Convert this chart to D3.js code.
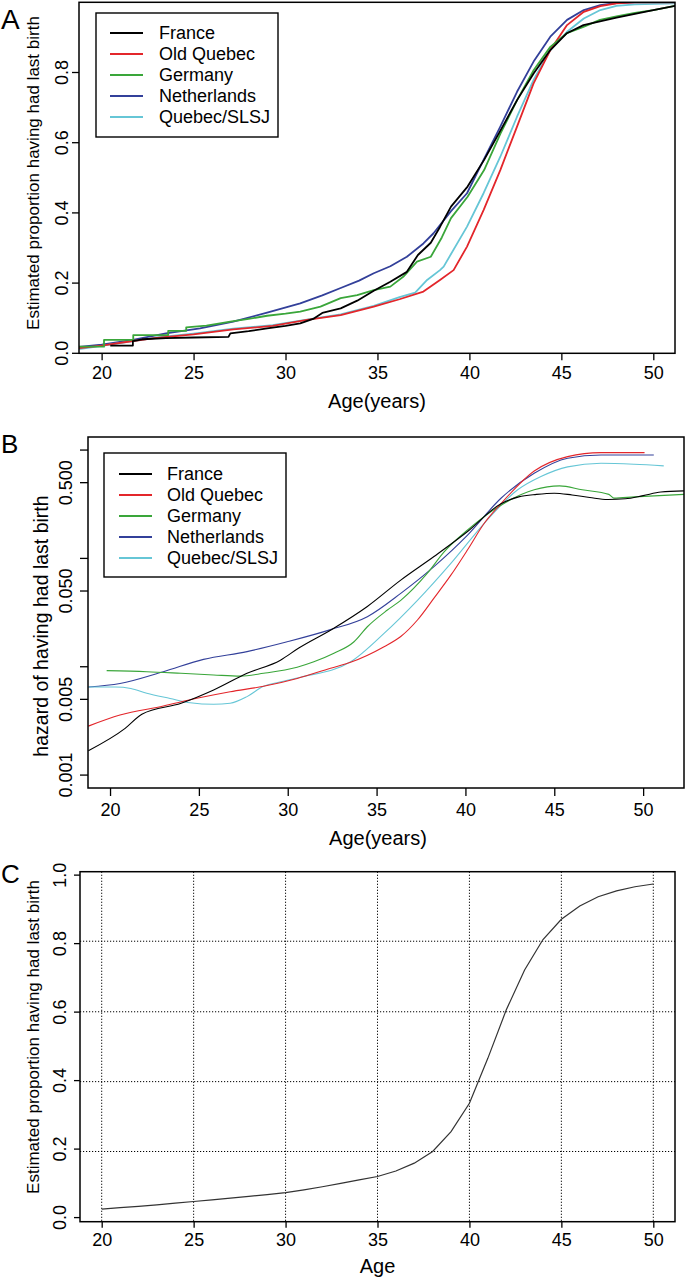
<!DOCTYPE html>
<html><head><meta charset="utf-8">
<script src="https://cdn.jsdelivr.net/npm/d3@7"></script>
<style>
body{margin:0;background:#fff}
svg{display:block}
text{font-family:"Liberation Sans",Arial,Helvetica,sans-serif;fill:#000}
</style>
</head><body><svg id="chart" width="687" height="1280"></svg>
<script>
// ---------- shared ----------
const seriesNames  = ["France","Old Quebec","Germany","Netherlands","Quebec/SLSJ"];
const seriesColors = ["#000000","#e3262b","#3aa63a","#33409a","#66c6d6"];
const xTicks = [20,25,30,35,40,45,50];

// ---------- panel A: estimated proportion having had last birth ----------
const yTicksA = [0,0.2,0.4,0.6,0.8];
const propFranceA = [[20.47,0.022],[21.7,0.022],[21.7,0.035],[22.2,0.040],[23.5,0.043],[25,0.045],[26.9,0.047],[27.0,0.057],[28,0.063],[29,0.071],[30,0.078],[30.8,0.085],[31.5,0.098],[32,0.115],[33,0.128],[33.9,0.150],[34.8,0.178],[35.7,0.204],[36.6,0.232],[37.2,0.280],[37.9,0.315],[38.4,0.360],[39,0.418],[39.9,0.475],[40.8,0.551],[41.7,0.636],[42.6,0.722],[43.5,0.798],[44.4,0.864],[45.3,0.912],[46.2,0.935],[47.1,0.946],[48,0.956],[49,0.967],[50,0.978],[51.2,0.990]];
const propOldQuebecA = [[18.77,0.015],[20,0.022],[21.7,0.035],[23,0.044],[25,0.054],[27.16,0.068],[29.3,0.078],[31.16,0.095],[33,0.109],[34.8,0.133],[36.2,0.154],[37.5,0.176],[38.4,0.209],[39.14,0.237],[39.87,0.304],[40.77,0.408],[41.68,0.522],[42.59,0.646],[43.49,0.769],[44.4,0.864],[45.31,0.935],[46.22,0.973],[47.12,0.989],[48,0.997],[49,1.0],[51.2,1.0]];
const propGermanyA = [[18.77,0.019],[20.13,0.019],[20.13,0.038],[21.72,0.038],[21.72,0.052],[23.62,0.052],[23.62,0.064],[24.6,0.064],[24.6,0.074],[25.7,0.079],[27,0.090],[28,0.098],[29,0.107],[30,0.113],[30.8,0.119],[31.9,0.133],[33,0.157],[33.9,0.166],[34.8,0.180],[35.7,0.190],[36.4,0.218],[37.15,0.261],[37.9,0.275],[38.5,0.330],[39,0.385],[39.9,0.446],[40.8,0.522],[41.7,0.627],[42.6,0.722],[43.5,0.807],[44.4,0.873],[45.3,0.912],[46.2,0.930],[47.1,0.950],[48,0.960],[49,0.970],[50,0.978],[51.2,0.990]];
const propNetherlandsA = [[18.77,0.018],[20,0.025],[21.7,0.038],[23.5,0.057],[25.35,0.071],[27.16,0.090],[29,0.116],[30.8,0.142],[32,0.165],[33,0.186],[34,0.207],[34.8,0.228],[35.7,0.248],[36.6,0.275],[37.5,0.313],[38.05,0.342],[39,0.405],[39.87,0.456],[40.77,0.551],[41.68,0.646],[42.59,0.745],[43.49,0.831],[44.4,0.902],[45.31,0.950],[46.22,0.978],[47.12,0.992],[48,0.998],[49,1.0],[51.2,1.0]];
const propSLSJA = [[18.77,0.012],[20,0.021],[21.7,0.035],[23,0.045],[25,0.056],[27.16,0.070],[29.3,0.080],[31.16,0.096],[33,0.111],[34.8,0.135],[36.2,0.160],[37.05,0.173],[37.7,0.209],[38.4,0.237],[38.6,0.247],[39.87,0.361],[40.77,0.456],[41.68,0.560],[42.59,0.674],[43.49,0.779],[44.4,0.864],[45.31,0.916],[46.22,0.954],[47.12,0.978],[48,0.990],[49,0.994],[51.2,0.997]];

// ---------- panel B: hazard of having had last birth (log scale) ----------
const yTicksB = [0.001,0.005,0.010,0.050,0.100,0.500,1.000];
const yTickLabelsB = ["0.001","0.005","","0.050","","0.500",""];
const hazFranceB = [[18.78,0.00168],[20.85,0.0027],[21.79,0.00364],[24,0.0046],[25.83,0.0061],[27.71,0.0087],[29.59,0.0115],[30.6,0.0148],[32.5,0.0222],[34.48,0.036],[36.36,0.063],[38.23,0.104],[40.12,0.177],[42,0.32],[43,0.37],[44,0.39],[45,0.40],[46,0.385],[47,0.365],[48,0.35],[49,0.355],[50,0.38],[51,0.41],[52.3,0.42]];
const hazOldQuebecB = [[18.78,0.00283],[20.56,0.00358],[23,0.00434],[24.88,0.00511],[26.76,0.00588],[28.64,0.0066],[30.53,0.0078],[32.41,0.0097],[33.54,0.011],[35.42,0.0153],[36.36,0.019],[37.3,0.027],[38.23,0.043],[39.18,0.070],[40.12,0.120],[41.06,0.211],[42,0.32],[43.87,0.64],[45.75,0.87],[47.63,0.947],[50.08,0.947]];
const hazGermanyB = [[19.81,0.0092],[22.07,0.0090],[23.99,0.0087],[25.83,0.0084],[27.33,0.0082],[28.64,0.0087],[30.53,0.0099],[31.47,0.0111],[32.6,0.0133],[33.73,0.017],[34.48,0.0234],[35.61,0.0334],[36.36,0.041],[37.86,0.073],[38.8,0.115],[40.12,0.183],[42,0.31],[43.87,0.43],[45.3,0.467],[46.57,0.43],[48.07,0.39],[48.35,0.36],[49.5,0.37],[52.3,0.39]];
const hazNetherlandsB = [[18.78,0.0065],[20.56,0.0070],[23,0.0090],[25.26,0.0117],[27.71,0.0138],[29.97,0.0170],[32.41,0.0220],[34.48,0.029],[36.36,0.0476],[38.23,0.084],[40.12,0.164],[42,0.359],[43.87,0.61],[45.75,0.84],[47.63,0.90],[50.6,0.90]];
const hazSLSJB = [[18.78,0.0065],[20.3,0.0065],[21.17,0.0063],[22.07,0.0057],[23.38,0.0051],[24.51,0.00465],[25.83,0.0045],[26.76,0.0046],[27.71,0.0053],[28.64,0.0066],[29.5,0.0072],[30.72,0.0080],[33.54,0.0111],[35.42,0.0203],[37.3,0.041],[39.18,0.090],[41.06,0.211],[42.94,0.43],[44.25,0.57],[45.75,0.70],[47.63,0.755],[49.5,0.74],[51.16,0.715]];

// ---------- panel C: estimated proportion (single curve) ----------
const yTicksC = [0,0.2,0.4,0.6,0.8,1.0];
const gridYC = [0.193,0.397,0.601,0.807];
const ageC  = [20,21,22,23,24,25,26,27,28,29,30,31,32,33,34,35,36,37,38,39,40,41,42,43,44,45,46,47,48,49,50];
const propC = [0.025,0.029,0.033,0.037,0.042,0.047,0.052,0.057,0.062,0.067,0.073,0.081,0.090,0.100,0.110,0.120,0.136,0.159,0.193,0.251,0.334,0.465,0.606,0.723,0.812,0.871,0.910,0.937,0.954,0.966,0.974];

// ---------- drawing ----------
const svg = d3.select("#chart");
svg.append("rect").attr("width",687).attr("height",1280).attr("fill","#fff");

function panel(opts){
  const g = svg.append("g");
  const x = d3.scaleLinear().domain(opts.xDomain).range([opts.left, opts.right]);
  const y = (opts.log ? d3.scaleLog() : d3.scaleLinear()).domain(opts.yDomain).range([opts.bottom, opts.top]);
  const id = "clip" + opts.key;
  svg.append("clipPath").attr("id", id).append("rect")
    .attr("x", opts.left).attr("y", opts.top).attr("width", opts.right-opts.left).attr("height", opts.bottom-opts.top);
  const xa = g.append("g").attr("transform", `translate(0,${opts.bottom})`)
    .call(d3.axisBottom(x).tickValues(xTicks).tickSize(opts.tick).tickPadding(opts.xPad).tickFormat(d3.format("d")));
  xa.select(".domain").remove();
  xa.selectAll("line").attr("stroke","#000").attr("stroke-width",1.3);
  xa.selectAll("text").attr("font-size",18).attr("fill","#000").style("font-family",'"Liberation Sans",Arial,sans-serif');
  g.append("g").selectAll("line").data(opts.yTicks).join("line")
    .attr("x1", opts.left - opts.tick).attr("x2", opts.left)
    .attr("y1", d => y(d)).attr("y2", d => y(d))
    .attr("stroke","#000").attr("stroke-width",1.3);
  g.append("g").selectAll("text").data(opts.yTicks).join("text")
    .attr("x", opts.left - opts.yOff).attr("y", d => y(d))
    .attr("transform", d => `rotate(-90,${opts.left - opts.yOff},${y(d)})`)
    .attr("text-anchor","middle").attr("dominant-baseline","central")
    .attr("font-size",18)
    .text((d,i) => opts.yLabels ? opts.yLabels[i] : d3.format(".1f")(d));
  return {g, x, y, clip: `url(#${id})`};
}

function box(p, o){
  p.g.append("rect").attr("x",o.left).attr("y",o.top).attr("width",o.right-o.left).attr("height",o.bottom-o.top)
    .attr("fill","none").attr("stroke","#000").attr("stroke-width",1.5);
}

function legend(o){
  const lg = svg.append("g");
  lg.append("rect").attr("x",o.x).attr("y",o.y).attr("width",o.w).attr("height",o.h)
    .attr("fill","#fff").attr("stroke","#000").attr("stroke-width",1.4);
  const rows = lg.selectAll("g.row").data(seriesNames).join("g").attr("class","row")
    .attr("transform",(d,i)=>`translate(0,${o.y + o.first + i*o.step})`);
  rows.append("line").attr("x1",o.lx1).attr("x2",o.lx2).attr("stroke",(d,i)=>seriesColors[i]).attr("stroke-width",2.2);
  rows.append("text").attr("x",o.tx).attr("dominant-baseline","central").attr("font-size",18).text(d=>d);
}

// ===== Panel A =====
const oA = {key:"A", left:79, right:675, top:2.3, bottom:353.3, xDomain:[18.77,51.18], yDomain:[0,1], tick:7, xPad:6, yOff:17, yTicks:yTicksA};
const pA = panel(oA);
const seriesA = [propFranceA, propOldQuebecA, propGermanyA, propNetherlandsA, propSLSJA];
const lineA = d3.line().x(d=>pA.x(d[0])).y(d=>pA.y(d[1]));
const drawOrderA = [3,4,1,2,0];
pA.g.append("g").attr("clip-path",pA.clip).selectAll("path").data(drawOrderA).join("path")
  .attr("d", i => lineA(seriesA[i])).attr("fill","none").attr("stroke", i => seriesColors[i])
  .attr("stroke-width",1.8).attr("stroke-linejoin","round");
box(pA, oA);
legend({x:96,y:13,w:182,h:124,first:20,step:21,lx1:110,lx2:143,tx:159});
svg.append("text").attr("x",(oA.left+oA.right)/2).attr("y",401).attr("text-anchor","middle").attr("dominant-baseline","central").attr("font-size",20).text("Age(years)");
svg.append("text").attr("transform",`translate(33,173) rotate(-90)`).attr("text-anchor","middle").attr("dominant-baseline","central").attr("font-size",17).text("Estimated proportion having had last birth");
svg.append("text").attr("x",1).attr("y",29).attr("font-size",28).text("A");

// ===== Panel B =====
const oB = {key:"B", left:88, right:684, top:437, bottom:788, xDomain:[18.76,52.3], yDomain:[0.00076,1.32], log:true, tick:8, xPad:7, yOff:22, yTicks:yTicksB, yLabels:yTickLabelsB};
const pB = panel(oB);
const seriesB = [hazFranceB, hazOldQuebecB, hazGermanyB, hazNetherlandsB, hazSLSJB];
const lineB = d3.line().curve(d3.curveMonotoneX).x(d=>pB.x(d[0])).y(d=>pB.y(d[1]));
const drawOrderB = [3,4,2,1,0];
pB.g.append("g").attr("clip-path",pB.clip).selectAll("path").data(drawOrderB).join("path")
  .attr("d", i => lineB(seriesB[i])).attr("fill","none").attr("stroke", i => seriesColors[i])
  .attr("stroke-width",1.1).attr("stroke-linejoin","round");
box(pB, oB);
legend({x:104,y:453,w:182,h:124,first:21,step:21,lx1:119,lx2:152,tx:167});
svg.append("text").attr("x",378).attr("y",838).attr("text-anchor","middle").attr("dominant-baseline","central").attr("font-size",20).text("Age(years)");
svg.append("text").attr("transform",`translate(41,626) rotate(-90)`).attr("text-anchor","middle").attr("dominant-baseline","central").attr("font-size",19.5).text("hazard of having had last birth");
svg.append("text").attr("x",1).attr("y",453).attr("font-size",26).text("B");

// ===== Panel C =====
const oC = {key:"C", left:80, right:675, top:871.7, bottom:1221.7, xDomain:[18.82,51.18], yDomain:[-0.012,1.01], tick:6, xPad:6, yOff:20, yTicks:yTicksC};
const pC = panel(oC);
const gridG = pC.g.append("g").attr("stroke","#000").attr("stroke-width",1).attr("stroke-dasharray","1.2,1.8");
gridG.selectAll("line.v").data(xTicks).join("line").attr("class","v")
  .attr("x1",d=>pC.x(d)).attr("x2",d=>pC.x(d)).attr("y1",oC.top).attr("y2",oC.bottom);
gridG.selectAll("line.h").data(gridYC).join("line").attr("class","h")
  .attr("x1",oC.left).attr("x2",oC.right).attr("y1",d=>pC.y(d)).attr("y2",d=>pC.y(d));
const lineC = d3.line().x((d,i)=>pC.x(ageC[i])).y(d=>pC.y(d));
pC.g.append("path").attr("d", lineC(propC)).attr("fill","none").attr("stroke","#333").attr("stroke-width",1.2);
box(pC, oC);
svg.append("text").attr("x",(oC.left+oC.right)/2).attr("y",1266).attr("text-anchor","middle").attr("dominant-baseline","central").attr("font-size",20).text("Age");
svg.append("text").attr("transform",`translate(33,1037) rotate(-90)`).attr("text-anchor","middle").attr("dominant-baseline","central").attr("font-size",17).text("Estimated proportion having had last birth");
svg.append("text").attr("x",1).attr("y",883).attr("font-size",26).text("C");
</script>
</body></html>
